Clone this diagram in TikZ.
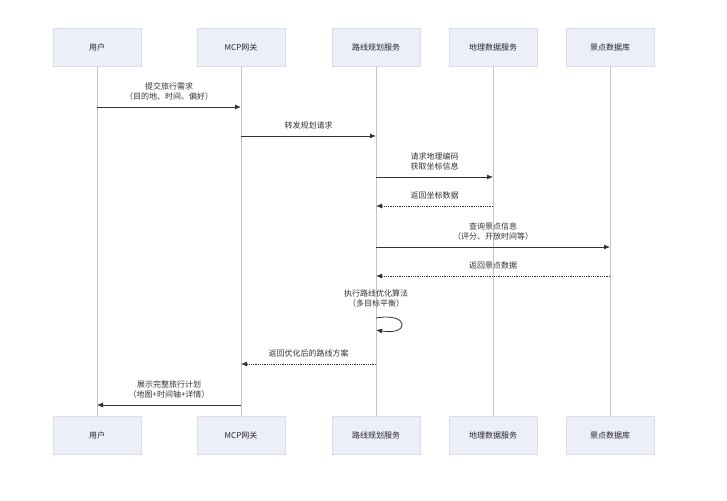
\documentclass[tikz,border=0pt]{standalone}
\usepackage{fontspec}
\setmainfont{Noto Sans CJK SC}
\usetikzlibrary{arrows.meta}
\definecolor{boxfill}{HTML}{ECEEF8}
\definecolor{boxline}{HTML}{D9DCEB}
\definecolor{lifeline}{HTML}{C4C4C8}
\definecolor{msgline}{HTML}{333333}
\tikzset{
  actor/.style={draw=boxline,fill=boxfill,minimum width=88pt,minimum height=38pt,font=\fontsize{8}{9}\selectfont,text=black!85},
  msg/.style={draw=msgline,thick,-{Latex[length=6pt,width=5pt]}},
  reply/.style={msg,densely dotted},
  lbl/.style={font=\fontsize{8}{10}\selectfont,text=black!80,align=center}
}
\begin{document}
\begin{tikzpicture}[x=1pt,y=-1pt]
  % Canvas
  \fill[white] (0,0) rectangle (727,500);
  \useasboundingbox (0,0) rectangle (727,500);

  % Participants
  \foreach \name/\x/\txt in {user/97/用户, gw/241/MCP网关, route/376/路线规划服务, geo/493/地理数据服务, poi/610/景点数据库}{
    \draw[lifeline,thick] (\x,66) -- (\x,416);
    \node[actor] (\name-top) at (\x,47) {\txt};
    \node[actor] (\name-bot) at (\x,435.5) {\txt};
  }

  % Messages
  \coordinate (m1a) at (97,107);  \coordinate (m1b) at (241,107);
  \draw[msg] (m1a) -- node[lbl,above=3pt]{提交旅行需求\\（目的地、时间、偏好）} (m1b);
  \coordinate (m2a) at (241,136); \coordinate (m2b) at (376,136);
  \draw[msg] (m2a) -- node[lbl,above=3pt]{转发规划请求} (m2b);
  \coordinate (m3a) at (376,177); \coordinate (m3b) at (493,177);
  \draw[msg] (m3a) -- node[lbl,above=3pt]{请求地理编码\\获取坐标信息} (m3b);
  \coordinate (m4a) at (493,206); \coordinate (m4b) at (376,206);
  \draw[reply] (m4a) -- node[lbl,above=3pt]{返回坐标数据} (m4b);
  \coordinate (m5a) at (376,247); \coordinate (m5b) at (610,247);
  \draw[msg] (m5a) -- node[lbl,above=3pt]{查询景点信息\\（评分、开放时间等）} (m5b);
  \coordinate (m6a) at (610,276); \coordinate (m6b) at (376,276);
  \draw[reply] (m6a) -- node[lbl,above=3pt]{返回景点数据} (m6b);

  % Self call
  \coordinate (s0) at (376,318); \coordinate (s1) at (376,330);
  \node[lbl] (selflbl) at (376,299) {执行路线优化算法\\（多目标平衡）};
  \draw[msg] (s0) .. controls (410,312) and (410,336) .. (s1);

  \coordinate (m8a) at (376,364); \coordinate (m8b) at (241,364);
  \draw[reply] (m8a) -- node[lbl,above=3pt]{返回优化后的路线方案} (m8b);
  \coordinate (m9a) at (241,405); \coordinate (m9b) at (97,405);
  \draw[msg] (m9a) -- node[lbl,above=3pt]{展示完整旅行计划\\（地图+时间轴+详情）} (m9b);
\end{tikzpicture}
\end{document}
